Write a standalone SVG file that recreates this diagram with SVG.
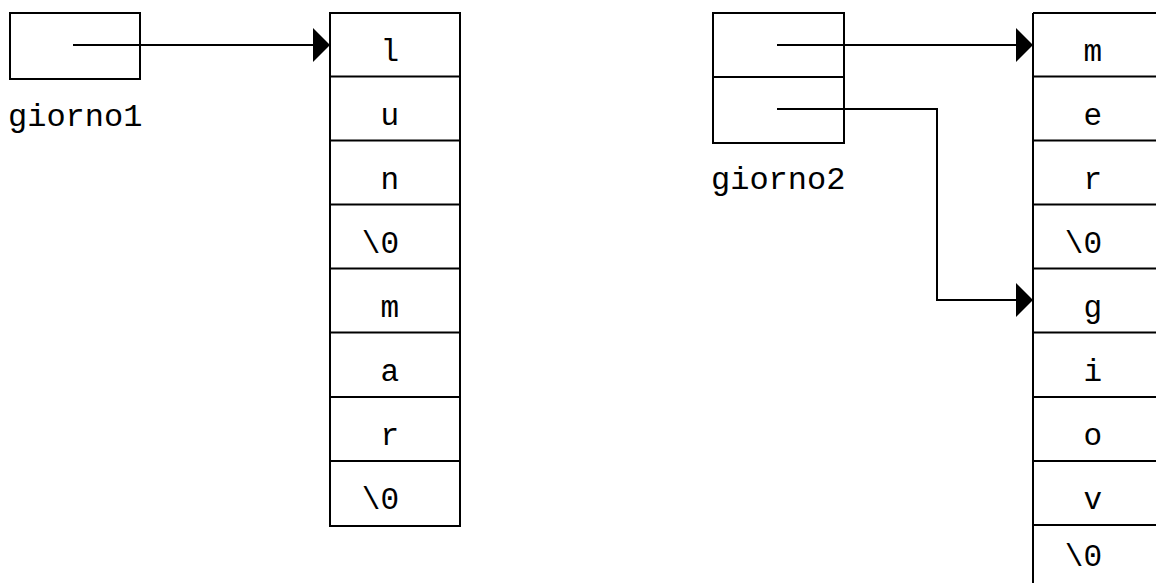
<svg xmlns="http://www.w3.org/2000/svg" width="1156" height="583" viewBox="0 0 1156 583">
  <style>
    .box { fill: #fff; stroke: #000; stroke-width: 2; }
    .sep { stroke: #000; stroke-width: 2; fill: none; }
    .wire { stroke: #000; stroke-width: 2; fill: none; marker-end: url(#head); }
    .lbl { font-family: "Liberation Mono", "Courier New", monospace; font-size: 32px; fill: #000; }
    .ch { font-family: "Liberation Mono", "Courier New", monospace; font-size: 31px; fill: #000; text-anchor: end; }
  </style>
  <defs>
    <marker id="head" markerUnits="userSpaceOnUse" markerWidth="17" markerHeight="34" refX="17" refY="17" orient="auto">
      <path d="M0,0 L17,17 L0,34 Z" fill="#000"/>
    </marker>
  </defs>
  <rect width="1156" height="583" fill="#fff"/>

  <!-- pointer variable giorno1 -->
  <g id="giorno1">
    <rect class="box" x="10" y="13" width="130" height="66"/>
    <text class="lbl" x="8" y="126">giorno1</text>
  </g>

  <!-- character array "lun\0mar\0" -->
  <g id="array1">
    <rect class="box" x="330" y="13" width="130" height="513"/>
    <path class="sep" d="M330,76.5H460 M330,140.5H460 M330,204.5H460 M330,268.5H460 M330,332.5H460 M330,397H460 M330,461H460"/>
    <text class="ch" x="399" y="61">l</text>
    <text class="ch" x="399" y="125">u</text>
    <text class="ch" x="399" y="189">n</text>
    <text class="ch" x="399" y="253">\0</text>
    <text class="ch" x="399" y="317">m</text>
    <text class="ch" x="399" y="381">a</text>
    <text class="ch" x="399" y="445">r</text>
    <text class="ch" x="399" y="509">\0</text>
  </g>

  <!-- pointer array giorno2 -->
  <g id="giorno2">
    <rect class="box" x="713" y="13" width="131" height="130"/>
    <path class="sep" d="M713,77H844"/>
    <text class="lbl" x="711" y="189">giorno2</text>
  </g>

  <!-- character array "mer\0giov\0" (continues past the right edge) -->
  <g id="array2">
    <path class="sep" d="M1033,13H1160 M1033,13V590"/>
    <path class="sep" d="M1033,76.5H1160 M1033,140.5H1160 M1033,204.5H1160 M1033,268.5H1160 M1033,332.5H1160 M1033,397H1160 M1033,461H1160 M1033,525H1160"/>
    <text class="ch" x="1102" y="61">m</text>
    <text class="ch" x="1102" y="125">e</text>
    <text class="ch" x="1102" y="189">r</text>
    <text class="ch" x="1102" y="253">\0</text>
    <text class="ch" x="1102" y="317">g</text>
    <text class="ch" x="1102" y="381">i</text>
    <text class="ch" x="1102" y="445">o</text>
    <text class="ch" x="1102" y="509">v</text>
    <text class="ch" x="1102" y="566">\0</text>
  </g>

  <!-- pointers -->
  <g id="connectors">
    <path class="wire" d="M73,45H330"/>
    <path class="wire" d="M777,45H1033"/>
    <path class="wire" d="M777,109H937V300H1033"/>
  </g>
</svg>
